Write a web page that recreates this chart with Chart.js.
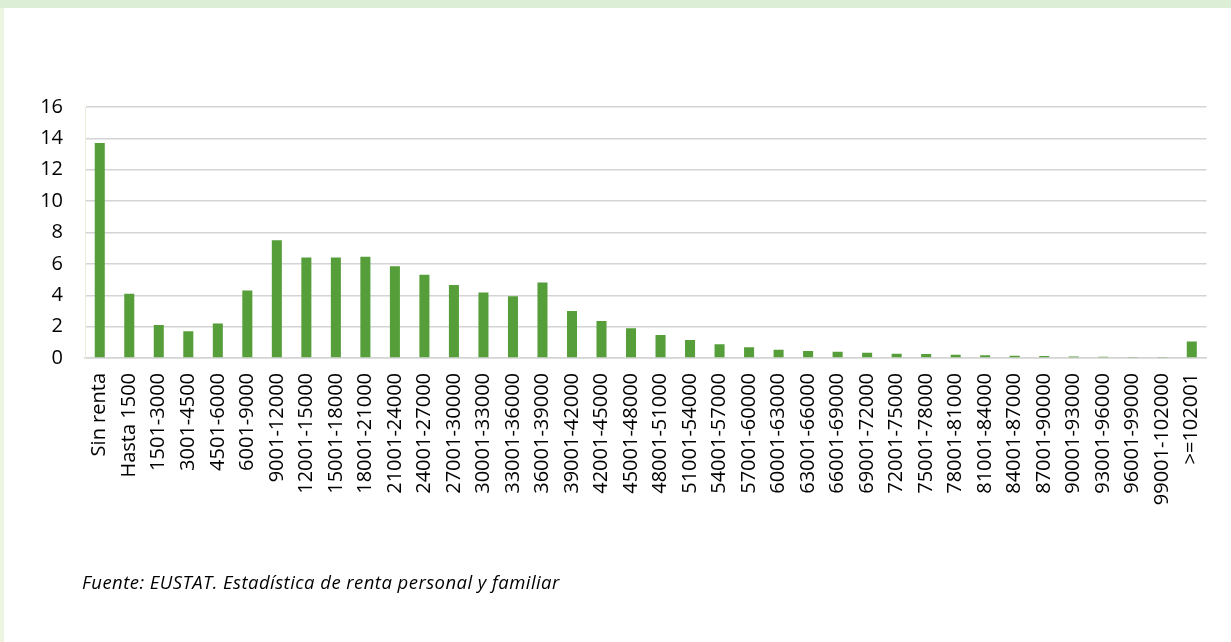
<!DOCTYPE html>
<html>
<head>
<meta charset="utf-8">
<script src="https://cdn.jsdelivr.net/npm/chart.js@4"></script>
<style>
  html, body { margin: 0; padding: 0; background: #fff; }
  body { width: 1231px; height: 642px; position: relative; overflow: hidden; }
  #topBand { position: absolute; left: 0; top: 0; width: 1231px; height: 8px; background: #dcefd6; }
  #leftBand { position: absolute; left: 0; top: 8px; width: 4px; height: 634px; background: #ebf5e2; }
  #wrap { position: absolute; left: 0; top: 0; width: 1231px; height: 642px; }
  #note { position: absolute; left: 82px; top: 569px; line-height: 26px; font-family: "Open Sans", sans-serif; font-style: italic; font-size: 18.5px; letter-spacing: 0.45px; color: #000; white-space: nowrap; }
</style>
</head>
<body>
<div id="topBand"></div>
<div id="leftBand"></div>
<div id="wrap"><canvas id="rentaChart" width="1231" height="642"></canvas></div>
<div id="note">Fuente: EUSTAT. Estadística de renta personal y familiar</div>
<script>
// categorias de renta (euros)
const categories = ['Sin renta', 'Hasta 1500', '1501-3000', '3001-4500', '4501-6000', '6001-9000',
	'9001-12000', '12001-15000', '15001-18000', '18001-21000', '21001-24000', '24001-27000',
	'27001-30000', '30001-33000', '33001-36000', '36001-39000', '39001-42000', '42001-45000',
	'45001-48000', '48001-51000', '51001-54000', '54001-57000', '57001-60000', '60001-63000',
	'63001-66000', '66001-69000', '69001-72000', '72001-75000', '75001-78000', '78001-81000',
	'81001-84000', '84001-87000', '87001-90000', '90001-93000', '93001-96000', '96001-99000',
	'99001-102000', '>=102001'];

// porcentaje de personas
const values = [13.7, 4.1, 2.1, 1.7, 2.2, 4.3,
	7.5, 6.4, 6.4, 6.45, 5.85, 5.3,
	4.65, 4.17, 3.93, 4.82, 3.0, 2.36,
	1.89, 1.47, 1.15, 0.87, 0.68, 0.53,
	0.45, 0.40, 0.33, 0.27, 0.25, 0.20,
	0.18, 0.14, 0.13, 0.10, 0.08, 0.06,
	0.06, 1.05];

const yMin = 0;
const yMax = 16;
const yStep = 2;

var ctx = document.getElementById('rentaChart').getContext('2d');

var chart = new Chart(ctx, {
	type: 'bar',
	data: {
		labels: categories,
		datasets: [{
			label: 'Renta',
			data: values,
			backgroundColor: '#559e3a',
			borderWidth: 0,
			barPercentage: 0.34,
			categoryPercentage: 1.0
		}]
	},
	options: {
		responsive: false,
		animation: false,
		layout: {
			padding: { left: 0, right: 16, top: 107, bottom: 104 }
		},
		plugins: {
			legend: { display: false },
			tooltip: { enabled: false }
		},
		scales: {
			x: {
				grid: { display: false, drawTicks: false },
				border: { display: true, color: '#d4d4d4', width: 1.5 },
				ticks: {
					minRotation: 90,
					maxRotation: 90,
					autoSkip: false,
					padding: 15,
					color: '#000',
					font: { family: 'Open Sans', size: 20 }
				},
				afterFit: function(scale) { scale.height = 180; }
			},
			y: {
				min: yMin,
				max: yMax,
				grid: { color: '#d4d4d4', lineWidth: 1.5, drawTicks: false },
				border: { display: true, color: '#e6efdc', width: 1 },
				ticks: {
					stepSize: yStep,
					padding: 22,
					color: '#000',
					font: { family: 'Open Sans', size: 20 }
				},
				afterFit: function(scale) { scale.width = 85; }
			}
		}
	}
});
</script>
</body>
</html>
